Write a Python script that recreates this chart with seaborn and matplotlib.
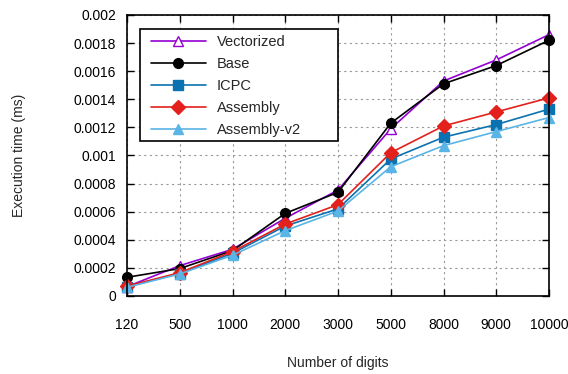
import matplotlib
matplotlib.use("Agg")
import matplotlib.pyplot as plt
from matplotlib.patches import Rectangle
import seaborn as sns
import pandas as pd

digits = ["120", "500", "1000", "2000", "3000", "5000", "8000", "9000", "10000"]
vectorized = [0.000066, 0.000216, 0.000332, 0.000553, 0.000754, 0.00119, 0.00153, 0.00168, 0.00186]
base = [0.000133, 0.000195, 0.000323, 0.000588, 0.000738, 0.00123, 0.00151, 0.00164, 0.00182]
icpc = [0.000066, 0.000160, 0.000304, 0.000498, 0.000620, 0.000975, 0.00113, 0.00122, 0.00133]
assembly = [0.000070, 0.000166, 0.000316, 0.000512, 0.000650, 0.00102, 0.00121, 0.00131, 0.00141]
assembly_v2 = [0.000062, 0.000157, 0.000290, 0.000465, 0.000605, 0.00092, 0.00107, 0.00117, 0.00127]

sns.set_style("ticks")
plt.rcParams['font.family'] = ['Liberation Sans', 'DejaVu Sans']

series = [
    ("Vectorized", vectorized, "#9400d3", "^", "white"),
    ("Base", base, "black", "o", "black"),
    ("ICPC", icpc, "#0a72b0", "s", "#0a72b0"),
    ("Assembly", assembly, "#e3201b", "D", "#e3201b"),
    ("Assembly-v2", assembly_v2, "#5ab4e5", "^", "#5ab4e5"),
]

fig = plt.figure(figsize=(5.68, 3.74), dpi=100)
ax = fig.add_axes([0.2236, 0.2086, 0.743, 0.7514])

pos = list(range(len(digits)))
for name, vals, col, mk, fc in series:
    df = pd.DataFrame({"pos": pos, "t": vals})
    sns.lineplot(data=df, x="pos", y="t", ax=ax, color=col, marker=mk,
                 markerfacecolor=fc, markeredgecolor=col, markersize=7,
                 markeredgewidth=1.0, linewidth=1.2, label=name, clip_on=False)

ax.set_xlim(0, len(digits) - 1)
ax.set_ylim(0, 0.002)
ax.set_xticks(pos)
ax.set_xticklabels(digits)
yt = [i * 0.0002 for i in range(11)]
ax.set_yticks(yt)
ax.set_yticklabels(["0", "0.0002", "0.0004", "0.0006", "0.0008", "0.001",
                    "0.0012", "0.0014", "0.0016", "0.0018", "0.002"])
ax.grid(True, color="#999999", linestyle=(0, (2, 3)), linewidth=0.8)
ax.tick_params(direction="in", top=True, right=True, length=5, width=1,
               labelsize=10, colors="black")
ax.tick_params(axis="x", pad=16)
ax.tick_params(axis="y", pad=8)
for s in ax.spines.values():
    s.set_color("black")
    s.set_linewidth(1.2)

ax.set_xlabel("Number of digits", fontsize=10, labelpad=17)
ax.set_ylabel("Execution time (ms)", fontsize=10, labelpad=34)

# legend without its own frame; gnuplot-style box drawn separately
leg = ax.legend(loc="upper left", bbox_to_anchor=(151 / 568, 1 - 35 / 374),
                bbox_transform=fig.transFigure, fontsize=10.5, frameon=False,
                handlelength=3.75, handletextpad=0.75, labelspacing=0.55,
                borderpad=0, borderaxespad=0)
leg.set_zorder(6)
box = Rectangle((140 / 568, 1 - 141 / 374), 198 / 568, 112 / 374,
                transform=fig.transFigure, fill=True, facecolor="white",
                edgecolor="black", linewidth=1.2, zorder=5, clip_on=False)
ax.add_patch(box)

fig.savefig("out.png", dpi=100)
